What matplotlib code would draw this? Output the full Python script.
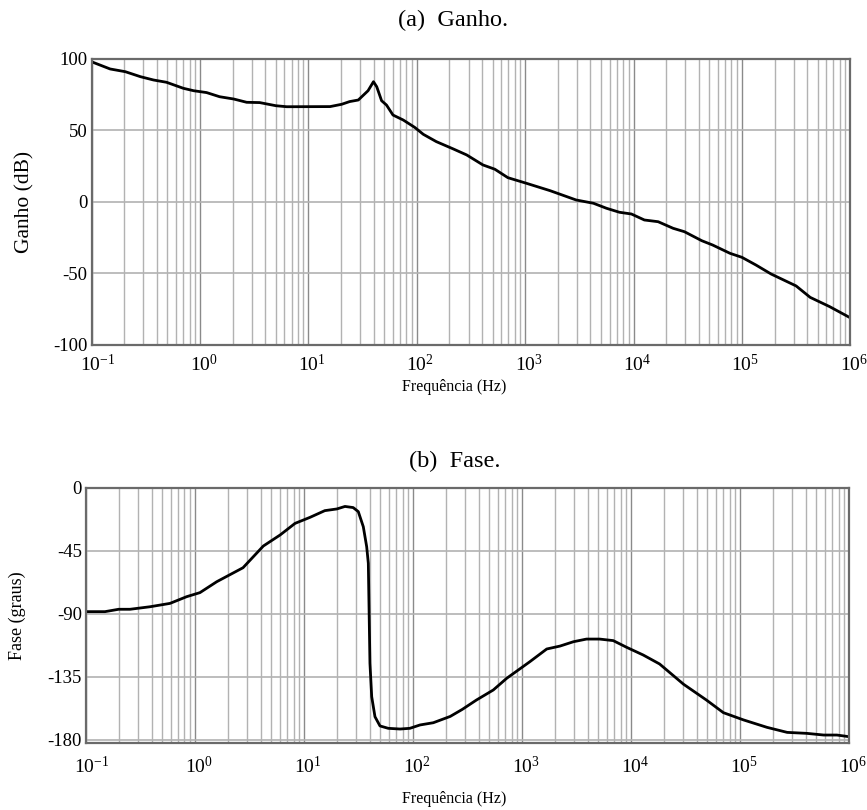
import numpy as np
import matplotlib
matplotlib.use("Agg")
import matplotlib.pyplot as plt
from matplotlib.ticker import LogLocator, FixedLocator, FuncFormatter, NullFormatter
from matplotlib.transforms import ScaledTranslation

plt.rcParams["font.family"] = ["Liberation Serif", "DejaVu Serif"]
plt.rcParams["mathtext.fontset"] = "custom"
plt.rcParams["mathtext.rm"] = "Liberation Serif"
plt.rcParams["mathtext.it"] = "Liberation Serif:italic"
plt.rcParams["axes.unicode_minus"] = False

# Gain response (frequency in Hz, gain in dB)
gain_freq = 10 ** np.array([
    -1.0, -0.83, -0.69, -0.55, -0.43, -0.31, -0.155, -0.06, 0.06, 0.18,
    0.31, 0.43, 0.55, 0.70, 0.80, 1.20, 1.306, 1.38, 1.46, 1.55,
    1.60, 1.63, 1.675, 1.72, 1.78, 1.875, 1.98, 2.06, 2.18, 2.336,
    2.46, 2.61, 2.72, 2.84, 3.01, 3.23, 3.47, 3.63, 3.75, 3.87,
    3.98, 4.10, 4.227, 4.365, 4.47, 4.63, 4.73, 4.89, 5.0, 5.13,
    5.27, 5.50, 5.63, 5.81, 6.0])
gain_db = np.array([
    98.0, 93.0, 91.1, 87.6, 85.3, 83.7, 79.5, 77.8, 76.5, 73.6,
    72.0, 69.7, 69.5, 67.3, 66.6, 66.7, 68.3, 70.2, 71.3, 77.8,
    84.1, 80.6, 70.8, 67.8, 60.8, 57.3, 52.2, 47.3, 42.2, 37.1,
    32.9, 25.9, 22.9, 17.0, 13.1, 7.9, 1.4, -0.9, -4.4, -7.2,
    -8.4, -12.6, -13.8, -18.4, -20.8, -27.1, -30.1, -35.9, -38.7, -44.1,
    -50.4, -58.7, -66.7, -73.2, -81.0])

# Phase response (frequency in Hz, phase in degrees)
phase_freq = 10 ** np.array([
    -1.0, -0.826, -0.70, -0.596, -0.413, -0.23, -0.077, 0.045, 0.199, 0.44,
    0.626, 0.78, 0.917, 1.054, 1.19, 1.30, 1.375, 1.45, 1.497, 1.543,
    1.574, 1.589, 1.595, 1.604, 1.62, 1.65, 1.696, 1.772, 1.88, 1.97,
    2.063, 2.185, 2.34, 2.45, 2.58, 2.735, 2.857, 3.07, 3.225, 3.347,
    3.47, 3.59, 3.71, 3.835, 3.958, 4.11, 4.26, 4.48, 4.69, 4.845,
    5.03, 5.245, 5.43, 5.61, 5.765, 5.886, 6.0])
phase_deg = np.array([
    -88.6, -88.6, -86.9, -86.9, -85.1, -82.7, -77.9, -75.0, -67.2, -57.2,
    -41.7, -33.8, -25.5, -21.2, -16.4, -15.2, -13.4, -14.2, -17.1, -27.9,
    -42.2, -54.0, -82.7, -125.5, -149.4, -163.7, -170.3, -172.0, -172.5, -172.0,
    -169.6, -168.0, -163.5, -158.5, -151.8, -144.6, -136.3, -124.4, -115.3, -113.2,
    -110.1, -108.2, -108.2, -109.3, -114.1, -119.6, -126.0, -140.5, -151.8, -160.8,
    -166.0, -171.3, -174.9, -175.6, -176.8, -176.8, -178.0])

decades = [-1, 0, 1, 2, 3, 4, 5, 6]
gain_ticks = [-100, -50, 0, 50, 100]
phase_ticks = [-180, -135, -90, -45, 0]

fig = plt.figure(figsize=(8.67, 8.10), dpi=100)
ax1 = fig.add_axes([0.1058, 0.5741, 0.8749, 0.3531])
ax2 = fig.add_axes([0.0992, 0.0827, 0.8804, 0.3152])

major_c = "#8a8a8a"
minor_c = "#b2b2b2"
spine_c = "#6a6a6a"


def style(ax, xpad):
    ax.set_xscale("log")
    ax.set_xlim(0.1, 1e6)
    ax.xaxis.set_major_locator(FixedLocator([10.0 ** d for d in decades]))
    ax.xaxis.set_major_formatter(FuncFormatter(
        lambda v, p: r"$10^{%d}$" % int(round(np.log10(v)))))
    ax.xaxis.set_minor_locator(LogLocator(base=10, subs=np.arange(2, 10), numticks=100))
    ax.xaxis.set_minor_formatter(NullFormatter())
    ax.grid(True, which="major", axis="x", color=major_c, lw=1.0)
    ax.grid(True, which="minor", axis="x", color=minor_c, lw=1.0)
    ax.grid(True, which="major", axis="y", color=minor_c, lw=1.2)
    ax.tick_params(which="both", length=0)
    ax.tick_params(axis="x", labelsize=14, pad=xpad)
    ax.tick_params(axis="y", labelsize=13.5, pad=3)
    for s in ax.spines.values():
        s.set_color(spine_c)
        s.set_linewidth(1.6)
    ax.set_axisbelow(True)
    # centre the "10" of each decade label on its grid line
    for d, tick in zip(decades, ax.xaxis.get_major_ticks()):
        shift = 5.5 if d < 0 else 3.5
        lbl = tick.label1
        lbl.set_transform(lbl.get_transform() +
                          ScaledTranslation(shift / 100, 0, fig.dpi_scale_trans))


style(ax1, 6.5)
ax1.plot(gain_freq, gain_db, color="black", lw=2.0)
ax1.set_ylim(-100, 100)
ax1.set_yticks(gain_ticks)
ax1.set_ylabel("Ganho (dB)", fontsize=15.5)
ax1.yaxis.set_label_coords(-0.075, 0.5)
fig.text(0.5236, 0.522, "Frequência (Hz)", ha="center", va="center", fontsize=11.5)
fig.text(0.5225, 0.975, "(a)  Ganho.", ha="center", va="center", fontsize=17.5)

style(ax2, 9.5)
ax2.plot(phase_freq, phase_deg, color="black", lw=2.0)
ax2.set_ylim(-182.5, 0)
ax2.set_yticks(phase_ticks)
ax2.set_ylabel("Fase (graus)", fontsize=13)
ax2.yaxis.set_label_coords(-0.079, 0.5)
fig.text(0.5236, 0.0135, "Frequência (Hz)", ha="center", va="center", fontsize=11.5)
fig.text(0.525, 0.430, "(b)  Fase.", ha="center", va="center", fontsize=17.5)

fig.savefig("out.png", dpi=100)
